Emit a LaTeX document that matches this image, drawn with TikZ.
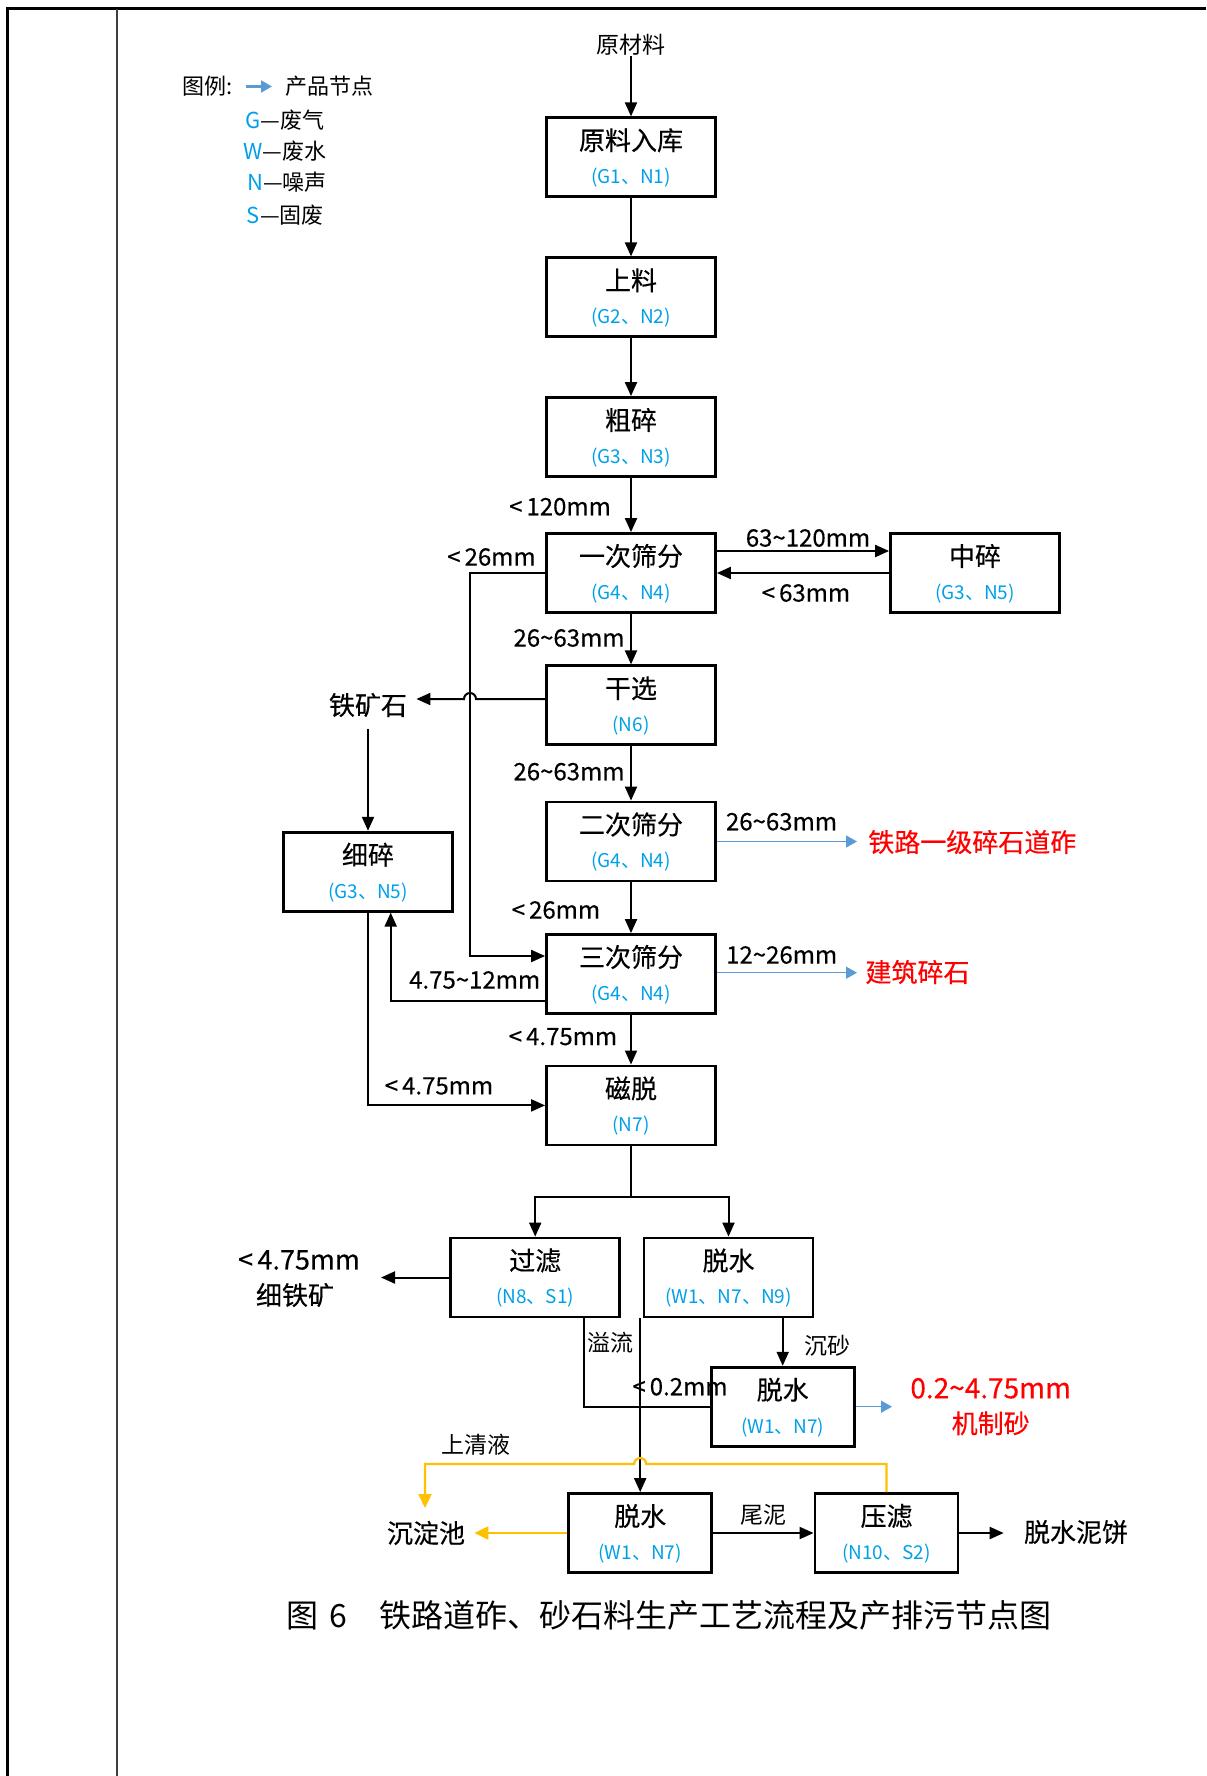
\documentclass[tikz,border=0pt]{standalone}
\usepackage{fontspec}
\setmainfont{Noto Sans CJK SC}
\newfontfamily\mfont{Noto Sans CJK SC}[FakeBold=0.35]
\usetikzlibrary{arrows.meta,calc}
\definecolor{subc}{RGB}{0,160,233}
\definecolor{parrow}{RGB}{91,155,213}
\definecolor{yel}{RGB}{255,192,0}
\definecolor{pred}{RGB}{255,0,0}
\newcommand\tld{\textasciitilde}
\newcommand\pnode[6]{%
  \node[#1] (#2) at (#3,#4) {};
  \node[ttl] (#2-t) at (#3,#4-17) {#5};
  \node[subl] (#2-s) at (#3,#4+20.5) {#6};
}
\begin{document}
\begin{tikzpicture}[x=0.5pt,y=-0.5pt,
  pbox/.style={draw, line width=1.4pt, minimum width=84.5pt, minimum height=39.5pt, inner sep=0pt},
  sbox/.style={pbox, minimum width=71.5pt},
  ttl/.style={font=\mfont\fontsize{13}{13}\selectfont, inner sep=0pt},
  subl/.style={font=\fontsize{9.5}{9.5}\selectfont, text=subc, inner sep=0pt},
  lbl/.style={font=\mfont\fontsize{12}{12}\selectfont, inner sep=0pt},
  small/.style={font=\fontsize{11.5}{11.5}\selectfont, inner sep=0pt},
  big/.style={font=\mfont\fontsize{13}{13}\selectfont, inner sep=0pt},
  redt/.style={font=\mfont\fontsize{13}{13}\selectfont, text=pred, inner sep=0pt},
  lgd/.style={font=\fontsize{11}{11}\selectfont, inner sep=0pt, anchor=west},
  wire/.style={line width=1pt},
  conn/.style={line width=1pt, -{Triangle[length=7pt,width=6pt]}},
  prod/.style={draw=parrow, line width=0.7pt, -{Triangle[length=5.5pt,width=6pt]}},
  ywire/.style={draw=yel, line width=1.1pt},
  yconn/.style={draw=yel, line width=1.1pt, -{Triangle[length=7pt,width=6.5pt]}},
]
\useasboundingbox (0,0) rectangle (1206,1776);
% frame
\draw[line width=1.5pt] (6,9) -- (1206,9);
\draw[line width=1.5pt] (7.5,8) -- (7.5,1776);
\draw[line width=0.9pt, black!75] (117,9) -- (117,1776);

% legend
\node[lgd] (lg0) at (182,86.5) {图例:};
\coordinate (lga) at (246,86.5);
\coordinate (lgb) at (272,86.5);
\draw[prod, line width=1.1pt] (lga) -- (lgb);
\node[lgd] (lg1) at (285,86.5) {产品节点};
\node[lgd] (lgG) at (245,120) {\textcolor{subc}{G}—废气};
\node[lgd] (lgW) at (243,151) {\textcolor{subc}{W}—废水};
\node[lgd] (lgN) at (247,182.5) {\textcolor{subc}{N}—噪声};
\node[lgd] (lgS) at (246.5,215) {\textcolor{subc}{S}—固废};

% boxes
\pnode{pbox}{n1}{631}{157.3}{原料入库}{(G1、N1)}
\pnode{pbox}{n2}{631}{297.3}{上料}{(G2、N2)}
\pnode{pbox}{n3}{631}{437}{粗碎}{(G3、N3)}
\pnode{pbox}{n4}{631}{573}{一次筛分}{(G4、N4)}
\pnode{pbox}{n5}{975}{573}{中碎}{(G3、N5)}
\pnode{pbox}{n6}{631}{705.3}{干选}{(N6)}
\pnode{pbox}{n7}{631}{841.5}{二次筛分}{(G4、N4)}
\pnode{pbox}{n8}{631}{974}{三次筛分}{(G4、N4)}
\pnode{pbox}{n9}{368}{871.7}{细碎}{(G3、N5)}
\pnode{pbox}{n10}{631}{1105.4}{磁脱}{(N7)}
\pnode{pbox}{n11}{535.2}{1277.5}{过滤}{(N8、S1)}
\pnode{pbox}{n12}{728.5}{1277.5}{脱水}{(W1、N7、N9)}
\pnode{sbox}{n13}{782.7}{1406.7}{脱水}{(W1、N7)}
\pnode{sbox}{n14}{640.2}{1533}{脱水}{(W1、N7)}
\pnode{sbox}{n15}{886.5}{1533}{压滤}{(N10、S2)}

% free texts
\node[small] (t0) at (631,45) {原材料};
\node[big, inner xsep=4.5pt, inner ysep=6pt] (tk) at (368,705) {铁矿石};
\node[big] (fe1) at (299,1260) {\fontsize{13.5}{13.5}\selectfont <\,4.75mm};
\node[big] (fe2) at (295,1295) {细铁矿};
\node[big] (cdc) at (426,1533) {沉淀池};
\node[big] (cake) at (1076,1532) {脱水泥饼};
\node[redt] (r1) at (972.3,842) {铁路一级碎石道砟};
\node[redt] (r2) at (917.5,972) {建筑碎石};
\node[redt] (r3) at (990.7,1388.3) {\fontsize{14}{14}\selectfont 0.2\tld4.75mm};
\node[redt] (r4) at (990.7,1423.3) {机制砂};

% labels
\node[lbl] (l1) at (560,506.7) {<\,120mm};
\node[lbl] (l2) at (808,538) {63\tld120mm};
\node[lbl] (l3) at (806,593) {<\,63mm};
\node[lbl] (l4) at (491.5,557) {<\,26mm};
\node[lbl] (l5) at (569,638) {26\tld63mm};
\node[lbl] (l6) at (569,771.7) {26\tld63mm};
\node[lbl] (l7) at (556,910) {<\,26mm};
\node[lbl] (l8) at (563,1036.7) {<\,4.75mm};
\node[lbl] (l9) at (474.7,980) {4.75\tld12mm};
\node[lbl] (l10) at (439,1086) {<\,4.75mm};
\node[lbl] (l11) at (781.5,821.7) {26\tld63mm};
\node[lbl] (l12) at (781.7,955) {12\tld26mm};
\node[small] (l13) at (610.5,1343) {溢流};
\node[small] (l14) at (827.8,1345.7) {沉砂};
\node[lbl] (l15) at (680,1386.7) {<\,0.2mm};
\node[small] (l16) at (475.5,1445) {上清液};
\node[small] (l17) at (763,1515) {尾泥};

% connectors
\draw[conn] (t0) -- (n1);
\draw[conn] (n1) -- (n2);
\draw[conn] (n2) -- (n3);
\draw[conn] (n3) -- (n4);
\draw[conn] (n4.east |- 0,551) -- (n5.west |- 0,551);
\draw[conn] (n5) -- (n4);
\draw[conn] (n4) -- (n6);
\draw[conn] (n6) -- (n7);
\draw[conn] (n7) -- (n8);
\draw[conn] (n8) -- (n10);
\draw[conn] (n4.west) -- (470,573) -- (470,956) -- (n8.west |- 0,956);
\draw[conn] (n6.west |- 0,699) -- (476,699) arc[start angle=0,end angle=180,radius=3pt] -- (tk.east |- 0,699);
\draw[conn] (tk) -- (n9);
\draw[conn] (n8.west |- 0,1000.7) -- (390.7,1000.7) -- (n9.south -| 390.7,0);
\draw[conn] (n9.south) |- (n10.west);
\draw[wire] (n10.south) -- (631,1197);
\draw[conn] (631,1197) -| (n11.north);
\draw[conn] (631,1197) -| (n12.north);
\coordinate (feT) at (381,1277.5);
\draw[conn] (n11.west) -- (feT);
\draw[wire] (n11.south -| 583.5,0) |- (n13.west);
\draw[conn] (n12.south -| 640.2,0) -- (n14.north);
\draw[conn] (n12.south -| n13.north) -- (n13.north);
\coordinate (p1) at (857,841.5);
\coordinate (p2) at (857,972.7);
\coordinate (p3) at (892,1406.7);
\draw[prod] (n7.east) -- (p1);
\draw[prod] (n8.east |- p2) -- (p2);
\draw[prod] (n13.east) -- (p3);
\coordinate (yT) at (425,1508);
\draw[yconn] (n15.north) |- (646.2,1464) arc[start angle=0,end angle=180,radius=3pt] -- (425,1464) -- (yT);
\coordinate (cdcT) at (474.4,1533);
\draw[yconn] (n14.west) -- (cdcT);
\draw[conn] (n14) -- (n15);
\coordinate (cakeT) at (1003.7,1533);
\draw[conn] (n15) -- (cakeT);

% caption
\node[inner sep=0pt, anchor=west, font=\fontsize{16}{16}\selectfont] (cap) at (286,1615) {图\hspace{0.35em}6\hspace{1.0em}铁路道砟、砂石料生产工艺流程及产排污节点图};
\end{tikzpicture}
\end{document}
